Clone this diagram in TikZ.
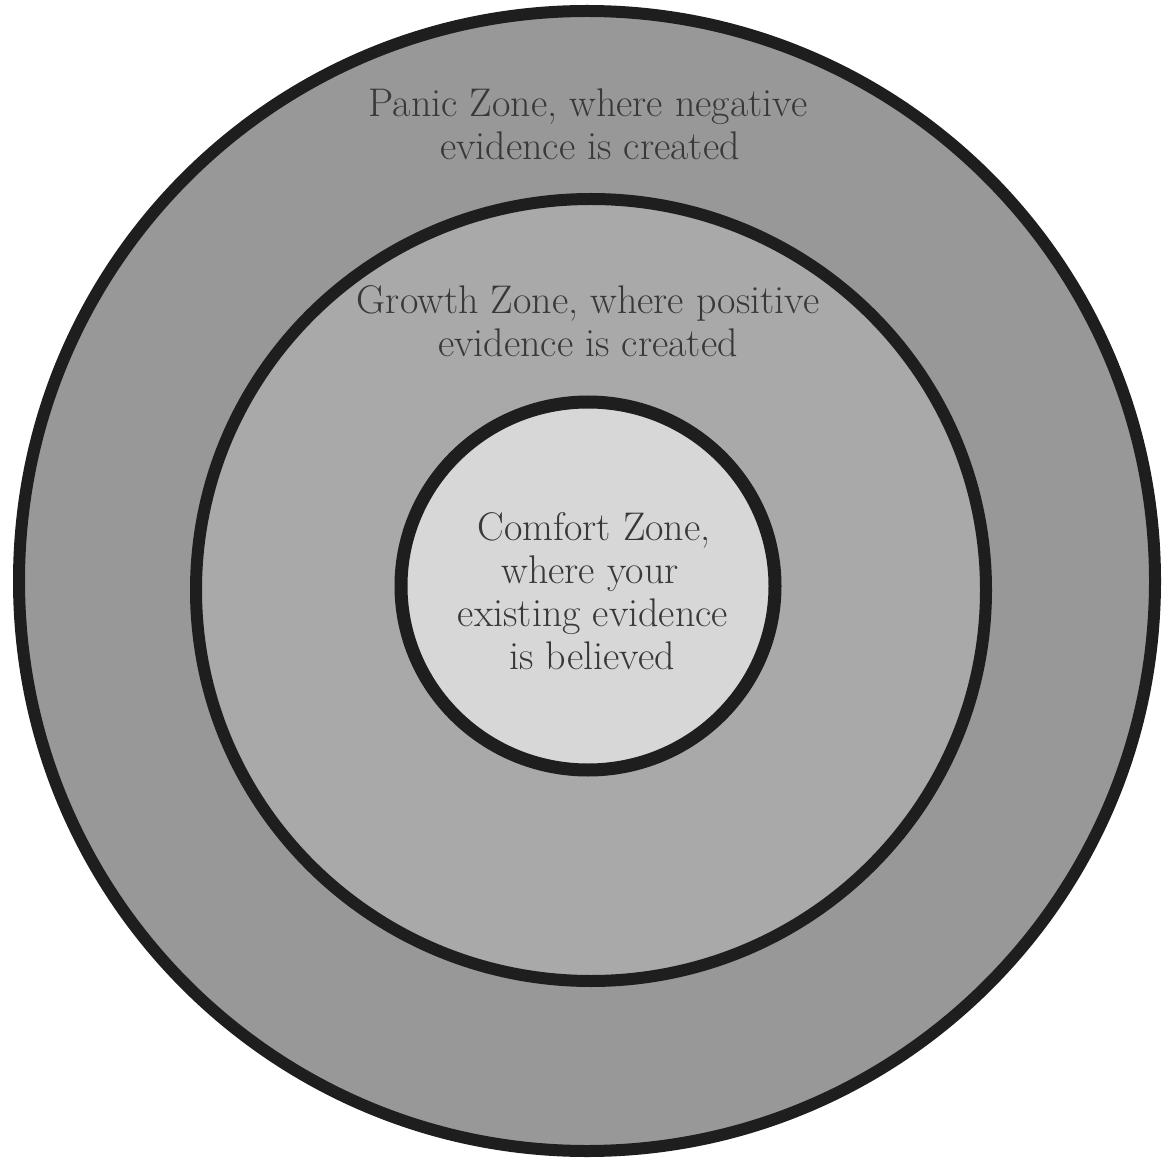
\documentclass[tikz,border=0pt]{standalone}
\usepackage{fontspec}
\definecolor{panicfill}{HTML}{989898}
\definecolor{growthfill}{HTML}{A9A9A9}
\definecolor{comfortfill}{HTML}{D7D7D7}
\definecolor{inkline}{HTML}{1E1E1E}
\definecolor{inktext}{HTML}{383838}
\begin{document}
\begin{tikzpicture}[x=0.5pt,y=-0.5pt,
  zone/.style={draw=inkline,line width=6pt},
  lbl/.style={anchor=base,inner sep=0pt,text=inktext,font=\fontsize{20}{22}\selectfont\addfontfeature{LetterSpace=6}}]
\useasboundingbox (0,0) rectangle (1167,1160);
\fill[white] (0,0) rectangle (1167,1160);
\draw[zone,fill=panicfill] (587,581) ellipse [x radius=568, y radius=570];
\draw[zone,fill=growthfill] (591,590) ellipse [x radius=395, y radius=391];
\draw[zone,line width=6.5pt,fill=comfortfill] (588,586) ellipse [x radius=187, y radius=184];
\node[lbl] (p1) at (588,117) {Panic Zone, where negative};
\node[lbl] (p2) at (590,160) {evidence is created};
\node[lbl] (g1) at (588,314) {Growth Zone, where positive};
\node[lbl] (g2) at (588,357) {evidence is created};
\node[lbl] (c1) at (594,540) {Comfort Zone,};
\node[lbl] (c2) at (590,583) {where your};
\node[lbl] (c3) at (593,626) {existing evidence};
\node[lbl] (c4) at (592,669) {is believed};
\end{tikzpicture}
\end{document}
